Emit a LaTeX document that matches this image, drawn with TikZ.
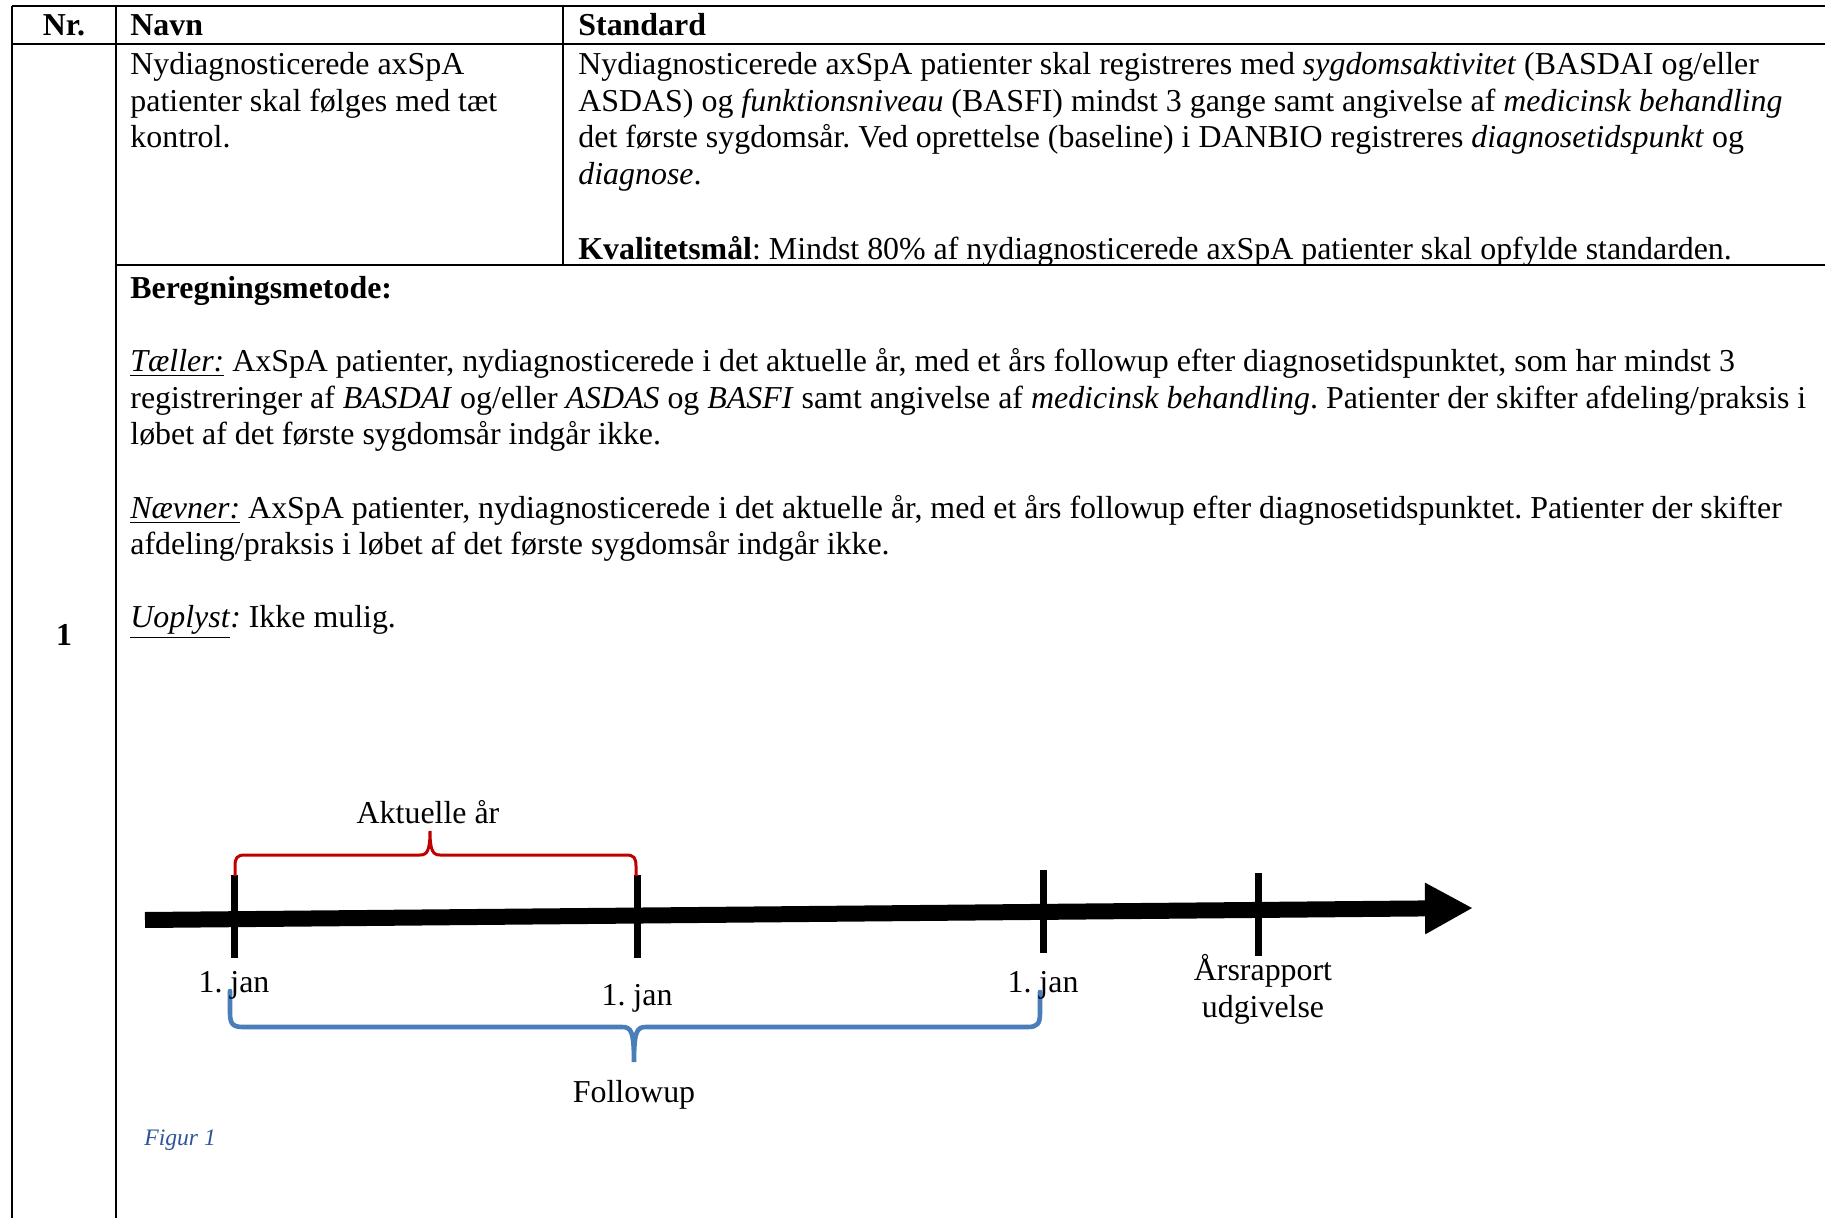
\documentclass[tikz,border=0pt]{standalone}
\usepackage{fontspec}
\setmainfont{Liberation Serif}
\usetikzlibrary{arrows.meta}
\definecolor{bracered}{HTML}{C00000}
\definecolor{braceblue}{HTML}{4A7EBB}
\definecolor{capblue}{HTML}{2E5597}
\newcommand{\bodyfnt}{\fontsize{15.95}{18.35}\selectfont}
\newcommand{\capfnt}{\fontsize{11.8}{14}\selectfont}
\frenchspacing
\begin{document}
\begin{tikzpicture}[x=0.5pt,y=-0.5pt,
  txt/.style={anchor=base west,inner sep=0pt,font=\bodyfnt},
  ctxt/.style={anchor=base,inner sep=0pt,font=\bodyfnt},
  tablerule/.style={line width=1.2pt,black},
  tickmark/.style={line width=3.5pt,black},
  axisline/.style={line width=8pt,black,-{Triangle[length=24pt,width=24pt]}},
  redbrace/.style={line width=1.5pt,bracered},
  bluebrace/.style={line width=2.3pt,braceblue,line cap=round}]
\useasboundingbox (0,0) rectangle (1825,1218);
\fill[white] (0,0) rectangle (1825,1218);

% ---------- table rules ----------
\coordinate (c0t) at (12,6);    \coordinate (c0b) at (12,1218);
\coordinate (c1t) at (116,6);   \coordinate (c1b) at (116,1218);
\coordinate (c2t) at (563,6);   \coordinate (c2b) at (563,265);
\coordinate (r0l) at (12,6);    \coordinate (r0r) at (1825,6);
\coordinate (r1l) at (12,44);   \coordinate (r1r) at (1825,44);
\coordinate (r2l) at (116,265); \coordinate (r2r) at (1825,265);
\draw[tablerule] (r0l) -- (r0r);
\draw[tablerule] (r1l) -- (r1r);
\draw[tablerule] (r2l) -- (r2r);
\draw[tablerule] (c0t) -- (c0b);
\draw[tablerule] (c1t) -- (c1b);
\draw[tablerule] (c2t) -- (c2b);

% ---------- header ----------
\node[ctxt] (hNr) at (64,36) {\bfseries Nr.};
\node[txt] (hNavn) at (130,36) {\bfseries Navn};
\node[txt] (hStd) at (578,36) {\bfseries Standard};

% ---------- Navn cell ----------
\node[txt] (navn1) at (130,75) {Nydiagnosticerede axSpA};
\node[txt] (navn2) at (130,112) {patienter skal følges med tæt};
\node[txt] (navn3) at (130,148) {kontrol.};

% ---------- Standard cell ----------
\node[txt] (std1) at (578,75) {Nydiagnosticerede axSpA patienter skal registreres med \textit{sygdomsaktivitet} (BASDAI og/eller};
\node[txt] (std2) at (578,112) {ASDAS) og \textit{funktionsniveau} (BASFI) mindst 3 gange samt angivelse af \textit{medicinsk behandling}};
\node[txt] (std3) at (578,148) {det første sygdomsår. Ved oprettelse (baseline) i DANBIO registreres \textit{diagnosetidspunkt} og};
\node[txt] (std4) at (578,185) {\textit{diagnose}.};
\node[txt] (kval) at (578,260) {\textbf{Kvalitetsmål}: Mindst 80\% af nydiagnosticerede axSpA patienter skal opfylde standarden.};

% ---------- Beregningsmetode ----------
\node[txt] (beregn) at (130,299) {\bfseries Beregningsmetode:};
\node[txt] (taeller1) at (130,372) {\underline{\textit{Tæller:}} AxSpA patienter, nydiagnosticerede i det aktuelle år, med et års followup efter diagnosetidspunktet, som har mindst 3};
\node[txt] (taeller2) at (130,409) {registreringer af \textit{BASDAI} og/eller \textit{ASDAS} og \textit{BASFI} samt angivelse af \textit{medicinsk behandling}. Patienter der skifter afdeling/praksis i};
\node[txt] (taeller3) at (130,445) {løbet af det første sygdomsår indgår ikke.};
\node[txt] (naevner1) at (130,519) {\underline{\textit{Nævner:}} AxSpA patienter, nydiagnosticerede i det aktuelle år, med et års followup efter diagnosetidspunktet. Patienter der skifter};
\node[txt] (naevner2) at (130,555) {afdeling/praksis i løbet af det første sygdomsår indgår ikke.};
\node[txt] (uoplyst) at (130,628) {\underline{\textit{Uoplyst}}\textit{:} Ikke mulig.};
\node[ctxt] (nr1) at (64,646) {\bfseries 1};

% ---------- timeline ----------
\coordinate (axs) at (145,920);
\coordinate (axe) at (1473,908);
\draw[axisline] (axs) -- (axe);

\coordinate (t1a) at (234,875);  \coordinate (t1b) at (234,958);
\coordinate (t2a) at (637,875);  \coordinate (t2b) at (637,958);
\coordinate (t3a) at (1043,870); \coordinate (t3b) at (1043,953);
\coordinate (t4a) at (1258,873); \coordinate (t4b) at (1258,956);
\draw[tickmark] (t1a) -- (t1b);
\draw[tickmark] (t2a) -- (t2b);
\draw[tickmark] (t3a) -- (t3b);
\draw[tickmark] (t4a) -- (t4b);

% red brace (Aktuelle år)
\draw[redbrace] (235,876) -- (235,866) .. controls (235,858) and (237,855) .. (245,855)
  -- (420,855) .. controls (427,855) and (430,851) .. (430,831)
  .. controls (430,851) and (433,855) .. (440,855)
  -- (626,855) .. controls (634,855) and (636,858) .. (636,866) -- (636,876);

% blue brace (Followup)
\draw[bluebrace] (230,991) -- (230,1013) .. controls (230,1024) and (233,1027) .. (243,1027)
  -- (622,1027) .. controls (631,1027) and (634,1031) .. (634,1062)
  .. controls (634,1031) and (637,1027) .. (646,1027)
  -- (1028,1027) .. controls (1037,1027) and (1040,1024) .. (1040,1013) -- (1040,992);

\node[ctxt] (akt) at (428,823) {Aktuelle år};
\node[ctxt] (jan1) at (234,992) {1. jan};
\node[ctxt] (jan2) at (637,1005) {1. jan};
\node[ctxt] (jan3) at (1043,992) {1. jan};
\node[ctxt] (aars1) at (1263,980) {Årsrapport};
\node[ctxt] (aars2) at (1263,1017) {udgivelse};
\node[ctxt] (follow) at (634,1102) {Followup};
\node[txt,font=\capfnt\itshape,text=capblue] (figur) at (144,1145) {Figur 1};
\end{tikzpicture}
\end{document}
